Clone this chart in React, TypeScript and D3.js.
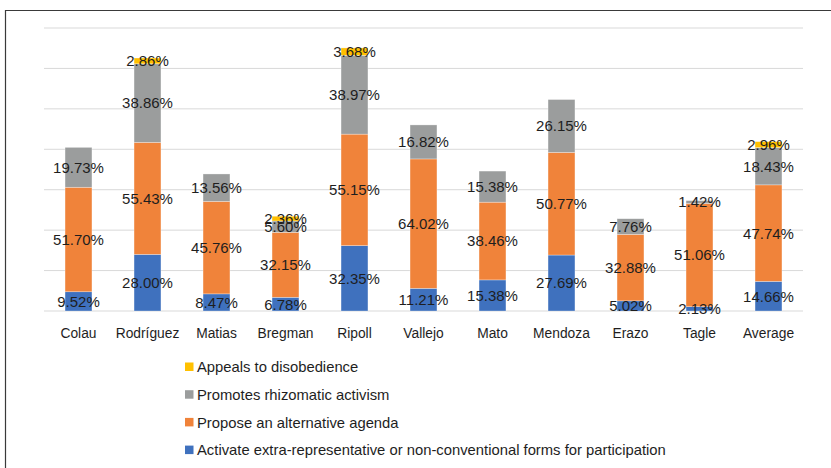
import React from "react";
import * as d3 from "d3";

const categories = ["Colau", "Rodríguez", "Matias", "Bregman", "Ripoll", "Vallejo", "Mato", "Mendoza", "Erazo", "Tagle", "Average"];
const activate = [9.52, 28.0, 8.47, 6.78, 32.35, 11.21, 15.38, 27.69, 5.02, 2.13, 14.66];
const propose = [51.7, 55.43, 45.76, 32.15, 55.15, 64.02, 38.46, 50.77, 32.88, 51.06, 47.74];
const promotes = [19.73, 38.86, 13.56, 5.6, 38.97, 16.82, 15.38, 26.15, 7.76, 1.42, 18.43];
const appeals = [0, 2.86, 0, 2.36, 3.68, 0, 0, 0, 0, 0, 2.96];
const yTicks = [0, 20, 40, 60, 80, 100, 120, 140];

const seriesNames = [
  "Activate extra-representative or non-conventional forms for participation",
  "Propose an alternative agenda",
  "Promotes rhizomatic activism",
  "Appeals to disobedience",
];
const seriesColors = ["#3F71BE", "#F0833A", "#9B9D9D", "#FFC000"];

export default function App() {
  const W = 831, H = 468;
  const x = d3.scaleBand<string>().domain(categories).range([44, 803]).paddingInner(0.61).paddingOuter(0.305);
  const y = d3.scaleLinear().domain([0, 140]).range([311, 28]);

  const rows = categories.map((c, i) => ({ cat: c, s0: activate[i], s1: propose[i], s2: promotes[i], s3: appeals[i] }));
  const stack = d3.stack<any>().keys(["s0", "s1", "s2", "s3"]);
  const stacked = stack(rows);
  const fmt = (v: number) => v.toFixed(2) + "%";
  const font = "'Liberation Sans', Arial, sans-serif";
  const legendOrder = [3, 2, 1, 0];

  return (
    <svg width={W} height={H} style={{ position: "absolute", left: 0, top: 0, background: "#fff" }}>
      <rect x={0} y={0} width={W} height={H} fill="#fff" />
      <path d={`M5.5,${H + 2}V10.5H${W + 2}`} fill="none" stroke="#3a3a3a" strokeWidth={1.2} />
      {yTicks.map((t) => (
        <line key={t} x1={44} x2={803} y1={y(t)} y2={y(t)} stroke="#D9D9D9" strokeWidth={1} />
      ))}
      {stacked.map((layer, si) => (
        <g key={si}>
          {layer.map((d, ci) =>
            d[1] - d[0] > 0 ? (
              <rect
                key={ci}
                x={x(categories[ci])}
                width={x.bandwidth()}
                y={y(d[1])}
                height={y(d[0]) - y(d[1])}
                fill={seriesColors[si]}
                stroke="#fff"
                strokeOpacity={0.5}
                strokeWidth={0.6}
              />
            ) : null
          )}
        </g>
      ))}
      {stacked.map((layer, si) => (
        <g key={"l" + si}>
          {layer.map((d, ci) =>
            d[1] - d[0] > 0 ? (
              <text
                key={ci}
                x={(x(categories[ci]) as number) + x.bandwidth() / 2}
                y={(y(d[0]) + y(d[1])) / 2}
                dy="0.36em"
                textAnchor="middle"
                fontFamily={font}
                fontSize={15}
                fill="#1e1e1e"
              >
                {fmt(d[1] - d[0])}
              </text>
            ) : null
          )}
        </g>
      ))}
      {categories.map((c) => (
        <text
          key={c}
          x={(x(c) as number) + x.bandwidth() / 2}
          y={333}
          dy="0.36em"
          textAnchor="middle"
          fontFamily={font}
          fontSize={13.8}
          fill="#1e1e1e"
        >
          {c}
        </text>
      ))}
      {legendOrder.map((si, k) => (
        <g key={"lg" + si} transform={`translate(185, ${367 + k * 27.7})`}>
          <rect x={0} y={-4.5} width={8.5} height={8.5} fill={seriesColors[si]} />
          <text x={12} y={0} dy="0.36em" fontFamily={font} fontSize={14.8} fill="#1e1e1e">
            {seriesNames[si]}
          </text>
        </g>
      ))}
    </svg>
  );
}
